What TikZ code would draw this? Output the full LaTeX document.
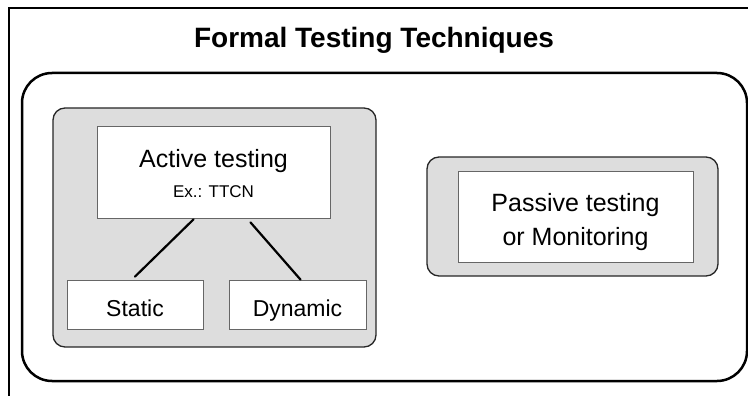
\documentclass[tikz,border=0pt]{standalone}
\usepackage{fontspec}
\setmainfont{Liberation Sans}
\usepackage{tikz}
\usetikzlibrary{arrows}

\definecolor{panelgray}{HTML}{DDDDDD}
\definecolor{edgegray}{HTML}{666666}

\tikzset{
  panel/.style={draw=black!85,fill=panelgray,line width=1.3pt,rounded corners=12pt,inner sep=0pt},
  techbox/.style={draw=edgegray,fill=white,line width=0.8pt,inner sep=0pt,align=center},
  link/.style={line width=2.2pt,line cap=round}
}

\begin{document}
\begin{tikzpicture}[x=1pt,y=-1pt]
      \useasboundingbox (0,0) rectangle (748,396);
      \begin{scope}
        \clip (0,0) rectangle (748,396);
        \draw[line width=1.5pt] (9,420) -- (9,8) -- (760,8);
        \node[draw,line width=2.5pt,rounded corners=30pt,minimum width=725pt,minimum height=308pt] (frame) at (384.5,227) {};
      \end{scope}
      \node[font=\bfseries\fontsize{28}{32}\selectfont] (title) at (374,40) {Formal Testing Techniques};
      \node[panel,minimum width=323pt,minimum height=239pt] (activepanel) at (214.5,227.5) {};
      \node[panel,minimum width=291pt,minimum height=119pt] (passivepanel) at (572.5,216.5) {};
      \node[techbox,minimum width=233pt,minimum height=92pt,text height=50pt,text depth=0pt,font=\fontsize{25}{30}\selectfont] (active) at (213.5,172)
        {Active testing\\{\fontsize{17}{20}\selectfont Ex.: TTCN}};
      \node[techbox,minimum width=235pt,minimum height=91pt,text height=57pt,text depth=0pt,font=\fontsize{25}{34}\selectfont] (passive) at (575.5,216.5)
        {Passive testing\\or Monitoring};
      \node[techbox,minimum width=136pt,minimum height=49pt,text height=23pt,text depth=0pt,font=\fontsize{23}{28}\selectfont] (static) at (135,304.5) {Static};
      \node[techbox,minimum width=137pt,minimum height=49pt,text height=23pt,text depth=0pt,font=\fontsize{23}{28}\selectfont] (dynamic) at (297.5,304.5) {Dynamic};
      \draw[link] ([xshift=-20pt,yshift=-1pt]active.south) -- ([yshift=3pt]static.north);
      \draw[link] ([xshift=37pt,yshift=-4pt]active.south) -- ([xshift=3pt]dynamic.north);
    \end{tikzpicture}
\end{document}
